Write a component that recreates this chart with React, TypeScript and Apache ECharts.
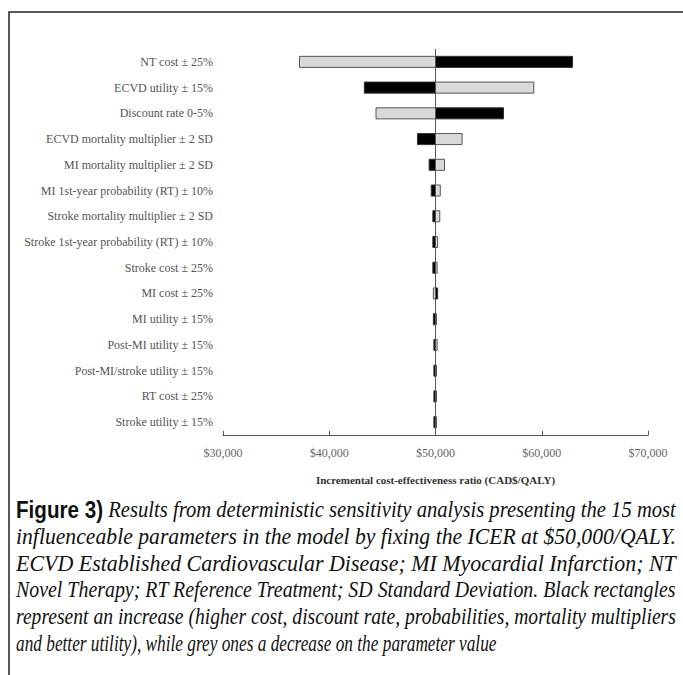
import React, { useEffect, useRef } from "react";
import * as echarts from "echarts";

// ---- data ----
const categories: string[] = [
  "NT cost ± 25%",
  "ECVD utility ± 15%",
  "Discount rate 0-5%",
  "ECVD mortality multiplier ± 2 SD",
  "MI mortality multiplier ± 2 SD",
  "MI 1st-year probability (RT) ± 10%",
  "Stroke mortality multiplier ± 2 SD",
  "Stroke 1st-year probability (RT) ± 10%",
  "Stroke cost ± 25%",
  "MI cost ± 25%",
  "MI utility ± 15%",
  "Post-MI utility ± 15%",
  "Post-MI/stroke utility ± 15%",
  "RT cost ± 25%",
  "Stroke utility ± 15%",
];

// ICER when the parameter increases (black rectangles)
const increaseICER: number[] = [
  62900, 43300, 56400, 48300, 49400, 49600, 49750, 49750, 49750, 50200, 49800,
  49850, 49850, 49850, 49850,
];

// ICER when the parameter decreases (grey rectangles)
const decreaseICER: number[] = [
  37200, 59250, 44400, 52500, 50850, 50450, 50400, 50200, 50150, 49800, 50080,
  50150, 50060, 50060, 50060,
];

const baseICER = 50000;
const xTicks = { min: 30000, max: 70000, interval: 10000 };

const axisTitle = "Incremental cost-effectiveness ratio (CAD$/QALY)";

const captionBold = "Figure 3)";
const captionLines: string[] = [
  " Results from deterministic sensitivity analysis presenting the 15 most",
  "influenceable parameters in the model by fixing the ICER at $50,000/QALY.",
  "ECVD Established Cardiovascular Disease; MI Myocardial Infarction; NT",
  "Novel Therapy; RT Reference Treatment; SD Standard Deviation. Black rectangles",
  "represent an increase (higher cost, discount rate, probabilities, mortality multipliers",
  "and better utility), while grey ones a decrease on the parameter value",
];

const CAP_FS = 23;
const ITALIC_FONT = `italic ${CAP_FS}px "Liberation Serif"`;
const BOLD_FONT = `bold ${CAP_FS}px "Liberation Sans"`;

function measure(text: string, font: string): number {
  const c = document.createElement("canvas");
  const ctx = c.getContext("2d");
  if (!ctx) return text.length * CAP_FS * 0.45;
  ctx.font = font;
  return ctx.measureText(text).width;
}

function makeCaption(): any[] {
  const left = 16;
  const fullWidth = 660;
  const lastWidth = 481;
  const top = 510;
  const step = 26.6;
  return captionLines.map((line, i) => {
    const isFirst = i === 0;
    const isLast = i === captionLines.length - 1;
    let w = measure(line, ITALIC_FONT);
    if (isFirst) w += measure(captionBold, BOLD_FONT);
    const target = isLast ? lastWidth : fullWidth;
    const sx = target / w;
    return {
      type: "text",
      x: left,
      y: top + i * step,
      scaleX: sx,
      style: {
        text: isFirst ? `{b|${captionBold}}{i|${line}}` : line,
        x: 0,
        y: 0,
        align: "left",
        verticalAlign: "middle",
        fill: "#111",
        fontFamily: "Liberation Serif",
        fontStyle: "italic",
        fontSize: CAP_FS,
        rich: isFirst
          ? {
              b: {
                fontFamily: "Liberation Sans",
                fontWeight: "bold",
                fontStyle: "normal",
                fontSize: CAP_FS,
                fill: "#111",
              },
              i: {
                fontFamily: "Liberation Serif",
                fontStyle: "italic",
                fontSize: CAP_FS,
                fill: "#111",
              },
            }
          : undefined,
      },
    };
  });
}

function makeRenderer(fill: string, stroke: string) {
  return (params: any, api: any) => {
    const v = api.value(0);
    const cat = api.value(1);
    const p1 = api.coord([v, cat]);
    const p0 = api.coord([baseICER, cat]);
    const h = api.size([0, 1])[1] * 0.43;
    return {
      type: "rect",
      shape: {
        x: Math.min(p0[0], p1[0]),
        y: p1[1] - h / 2,
        width: Math.max(Math.abs(p1[0] - p0[0]), 1),
        height: h,
      },
      style: { fill, stroke, lineWidth: 1 },
    };
  };
}

export default function App() {
  const ref = useRef<HTMLDivElement>(null);

  useEffect(() => {
    document.body.style.margin = "0";
    if (!ref.current) return;
    const chart = echarts.init(ref.current, undefined, { renderer: "svg" });

    const option: any = {
      animation: false,
      backgroundColor: "#ffffff",
      grid: { left: 223, right: 35, top: 49, bottom: 240, containLabel: false },
      xAxis: {
        type: "value",
        min: xTicks.min,
        max: xTicks.max,
        interval: xTicks.interval,
        splitLine: { show: false },
        axisLine: { show: true, lineStyle: { color: "#555", width: 1 } },
        axisTick: { show: true, inside: true, length: 4, lineStyle: { color: "#555" } },
        axisLabel: {
          color: "#666",
          fontFamily: "Liberation Serif",
          fontSize: 12,
          margin: 12,
          formatter: (v: number) => "$" + v.toLocaleString("en-US"),
        },
        name: axisTitle,
        nameLocation: "middle",
        nameGap: 39,
        nameTextStyle: {
          color: "#333",
          fontFamily: "Liberation Serif",
          fontWeight: "bold",
          fontSize: 11,
        },
      },
      yAxis: {
        type: "category",
        data: categories,
        inverse: true,
        axisLine: { show: false },
        axisTick: { show: false },
        splitLine: { show: false },
        axisLabel: {
          color: "#555",
          fontFamily: "Liberation Serif",
          fontSize: 12,
          margin: 10,
        },
      },
      series: [
        {
          type: "custom",
          name: "Decrease",
          renderItem: makeRenderer("#d9d9d9", "#555"),
          encode: { x: 0, y: 1 },
          data: decreaseICER.map((v, i) => [v, i]),
          z: 2,
        },
        {
          type: "custom",
          name: "Increase",
          renderItem: makeRenderer("#000000", "#333"),
          encode: { x: 0, y: 1 },
          data: increaseICER.map((v, i) => [v, i]),
          z: 3,
          markLine: {
            silent: true,
            symbol: ["none", "none"],
            label: { show: false },
            lineStyle: { color: "#555", width: 1, type: "solid" },
            data: [{ xAxis: baseICER }],
            z: 5,
          },
        },
      ],
      graphic: [
        {
          type: "rect",
          shape: { x: 9, y: 12, width: 800, height: 800 },
          style: { fill: "none", stroke: "#222", lineWidth: 1.5 },
          silent: true,
        },
        ...makeCaption(),
      ],
    };

    chart.setOption(option);
    return () => chart.dispose();
  }, []);

  return <div ref={ref} style={{ width: 683, height: 675 }} />;
}
